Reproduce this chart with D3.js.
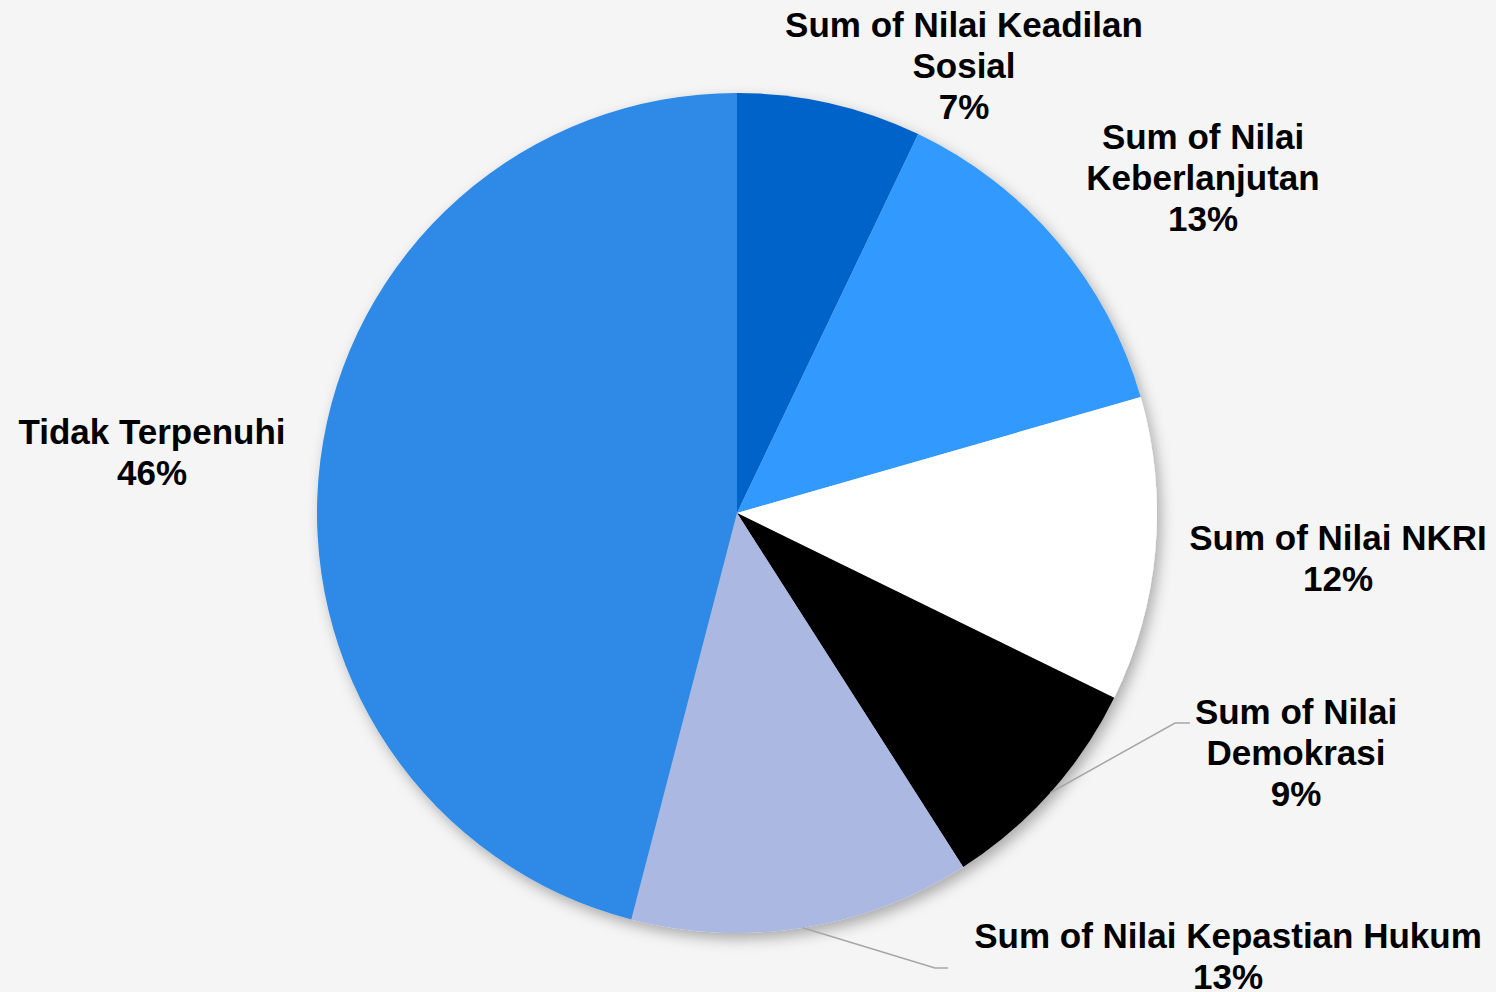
<!DOCTYPE html>
<html>
<head>
<meta charset="utf-8">
<script src="https://cdn.jsdelivr.net/npm/d3@7"></script>
<style>
  html, body { margin: 0; padding: 0; background: #f5f5f5; }
  svg { display: block; }
  .lbl { font-family: "Liberation Sans", Arial, sans-serif; font-weight: bold; font-size: 35px; fill: #000; }
</style>
</head>
<body>
<div id="chart"></div>
<script>
// slice data, clockwise from 12 o'clock
const categories = [
  "Sum of Nilai Keadilan Sosial",
  "Sum of Nilai Keberlanjutan",
  "Sum of Nilai NKRI",
  "Sum of Nilai Demokrasi",
  "Sum of Nilai Kepastian Hukum",
  "Tidak Terpenuhi"
];
const values = [7.1, 13.45, 11.7, 8.7, 13.1, 45.95];
const colors = ["#0563c9", "#3399ff", "#ffffff", "#000000", "#aab8e2", "#2e8ae6"];

// label text lines (as in the reference wrapping)
const labelLines = [
  ["Sum of Nilai Keadilan", "Sosial"],
  ["Sum of Nilai", "Keberlanjutan"],
  ["Sum of Nilai NKRI"],
  ["Sum of Nilai", "Demokrasi"],
  ["Sum of Nilai Kepastian Hukum"],
  ["Tidak Terpenuhi"]
];

const width = 1496, height = 992;
const cx = 737, cy = 513, radius = 420;
const lineH = 41;

// label block centres relative to pie centre, leader elbows for outside labels
const labelLayout = [
  { dx: 227, dy: -447 },
  { dx: 466, dy: -335 },
  { dx: 601, dy: 45 },
  { dx: 559, dy: 240 },
  { dx: 491, dy: 443 },
  { dx: -585, dy: -61 }
];
const leaders = [null, null, null, { ex: 438, ey: 210, len: 15 }, { ex: 198, ey: 455, len: 13 }, null];

const total = d3.sum(values);
const data = categories.map((c, i) => ({ name: c, value: values[i], color: colors[i], lines: labelLines[i], i }));

const svg = d3.select("#chart").append("svg")
  .attr("width", width)
  .attr("height", height);

svg.append("rect").attr("width", width).attr("height", height).attr("fill", "#f5f5f5");

const defs = svg.append("defs");
const shadow = defs.append("filter").attr("id", "shadow")
  .attr("x", "-20%").attr("y", "-20%").attr("width", "140%").attr("height", "140%");
shadow.append("feDropShadow")
  .attr("dx", 4).attr("dy", 6).attr("stdDeviation", 7)
  .attr("flood-color", "#000").attr("flood-opacity", 0.3);

const g = svg.append("g").attr("transform", `translate(${cx},${cy})`);

const pie = d3.pie().sort(null).value(d => d.value);
const arc = d3.arc().innerRadius(0).outerRadius(radius);
const arcs = pie(data);

g.append("g").attr("filter", "url(#shadow)")
  .selectAll("path")
  .data(arcs)
  .enter().append("path")
  .attr("d", arc)
  .attr("fill", d => d.data.color);

// leader lines
arcs.forEach((a, i) => {
  const ld = leaders[i];
  if (!ld) return;
  const mid = (a.startAngle + a.endAngle) / 2;
  const sx = radius * Math.sin(mid), sy = -radius * Math.cos(mid);
  g.append("polyline")
    .attr("points", `${sx},${sy} ${ld.ex},${ld.ey} ${ld.ex + ld.len},${ld.ey}`)
    .attr("fill", "none")
    .attr("stroke", "#a6a6a6")
    .attr("stroke-width", 1.5);
});

// labels
arcs.forEach((a, i) => {
  const pos = labelLayout[i];
  const lines = a.data.lines.concat([Math.round(a.data.value / total * 100) + "%"]);
  const top = pos.dy - (lines.length - 1) * lineH / 2;
  const t = g.append("text")
    .attr("class", "lbl")
    .attr("text-anchor", "middle");
  lines.forEach((ln, k) => {
    t.append("tspan")
      .attr("x", pos.dx)
      .attr("y", top + k * lineH)
      .attr("dy", "0.35em")
      .text(ln);
  });
});
</script>
</body>
</html>
